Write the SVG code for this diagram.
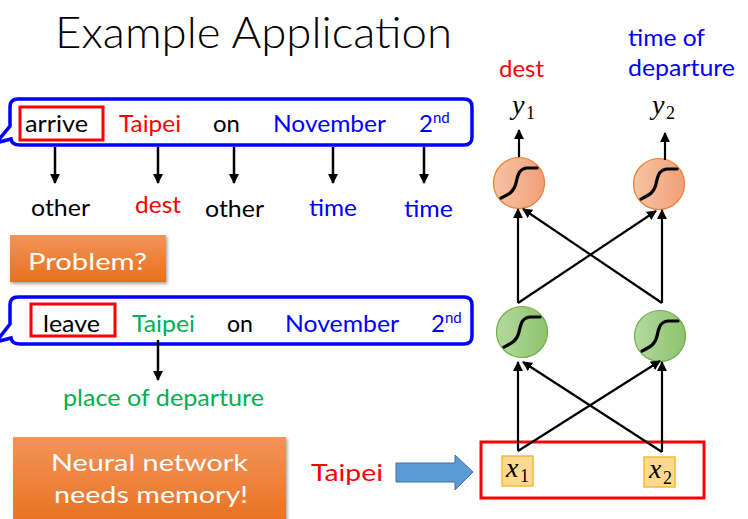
<svg xmlns="http://www.w3.org/2000/svg" width="748" height="519" viewBox="0 0 748 519">
<defs>
<style>
.s{font-family:"Lato","Open Sans","Liberation Sans",sans-serif;font-size:24px}
.t{font-family:"Liberation Serif","Times New Roman",serif;font-style:italic;font-size:28px}
.sub{font-family:"Liberation Serif","Times New Roman",serif;font-size:18px}
.blk{fill:#000}.red{fill:#ff0000}.blu{fill:#0000ff}.grn{fill:#00b050}.wht{fill:#fff}
.callout{fill:#fff;stroke:#0000ff;stroke-width:3.5}
.hl{fill:none;stroke:#ff0000;stroke-width:3}
.ar{stroke:#000;stroke-width:2.5;fill:none}
.nl{stroke:#000;stroke-width:2.2;fill:none;marker-end:url(#ah)}
.sig{fill:none;stroke:#000;stroke-width:3.2;stroke-linecap:round}
.xb{fill:#ffd98f;stroke:#f5b93a;stroke-width:1.5}
</style>
<marker id="ad" viewBox="0 0 10 10" refX="9" refY="5" markerWidth="4" markerHeight="4" orient="auto" markerUnits="strokeWidth"><path d="M0,0 L10,5 L0,10 Z" fill="#000"/></marker>
<marker id="ah" viewBox="0 0 10 10" refX="9" refY="5" markerWidth="4.5" markerHeight="4.5" orient="auto" markerUnits="strokeWidth"><path d="M0,0 L10,5 L0,10 Z" fill="#000"/></marker>
<linearGradient id="og" x1="0" y1="0" x2="0" y2="1"><stop offset="0" stop-color="#f3945a"/><stop offset="1" stop-color="#e8701d"/></linearGradient>
<linearGradient id="gg" x1="0" y1="0" x2="1" y2="0"><stop offset="0" stop-color="#b5d8a0"/><stop offset="1" stop-color="#8cc46c"/></linearGradient>
<linearGradient id="rg" x1="0" y1="0" x2="1" y2="0"><stop offset="0" stop-color="#f7c3a5"/><stop offset="1" stop-color="#f0a077"/></linearGradient>
<filter id="sh" x="-10%" y="-10%" width="130%" height="140%"><feDropShadow dx="1.5" dy="2" stdDeviation="1.5" flood-color="#000" flood-opacity="0.35"/></filter>
</defs>
<rect width="748" height="519" fill="#fff"/>

<text id="title" x="55" y="48" font-family="Lato,'Open Sans','Liberation Sans',sans-serif" font-weight="300" font-size="43" textLength="397" lengthAdjust="spacingAndGlyphs" fill="#000">Example Application</text>

<g id="callout1">
<path class="callout" d="M18 99 H464 Q472 99 472 107 V137 Q472 145 464 145 H20 Q12 145 11 139 L-4 143 L10 126 V107 Q10 99 18 99 Z"/>
<rect class="hl" x="20" y="107" width="83" height="33"/>
<text class="s blk" x="25" y="132" textLength="63" lengthAdjust="spacingAndGlyphs">arrive</text>
<text class="s red" x="119" y="132" textLength="62" lengthAdjust="spacingAndGlyphs">Taipei</text>
<text class="s blk" x="213" y="132" textLength="27" lengthAdjust="spacingAndGlyphs">on</text>
<text class="s blu" x="273" y="132" textLength="113" lengthAdjust="spacingAndGlyphs">November</text>
<text class="s blu" x="419" y="132">2<tspan font-size="15" dy="-9">nd</tspan></text>
</g>

<g id="labels1">
<text class="s blk" x="31" y="216" textLength="59" lengthAdjust="spacingAndGlyphs">other</text>
<text class="s red" x="135" y="213" textLength="46" lengthAdjust="spacingAndGlyphs">dest</text>
<text class="s blk" x="205" y="217" textLength="59" lengthAdjust="spacingAndGlyphs">other</text>
<text class="s blu" x="309" y="216" textLength="48" lengthAdjust="spacingAndGlyphs">time</text>
<text class="s blu" x="404" y="217" textLength="49" lengthAdjust="spacingAndGlyphs">time</text>
</g>

<g id="problem">
<rect x="10" y="235" width="156" height="47" fill="url(#og)" filter="url(#sh)"/>
<text class="s wht" x="28" y="270" font-size="26" textLength="119" lengthAdjust="spacingAndGlyphs">Problem?</text>
</g>

<g id="callout2">
<path class="callout" d="M18 297 H464 Q472 297 472 305 V336 Q472 344 464 344 H20 Q12 344 11 338 L-4 342 L10 324 V305 Q10 297 18 297 Z"/>
<rect class="hl" x="31" y="304" width="84" height="32"/>
<text class="s blk" x="43" y="332" textLength="57" lengthAdjust="spacingAndGlyphs">leave</text>
<text class="s grn" x="132" y="332" textLength="63" lengthAdjust="spacingAndGlyphs">Taipei</text>
<text class="s blk" x="227" y="332" textLength="26" lengthAdjust="spacingAndGlyphs">on</text>
<text class="s blu" x="285" y="332" textLength="114" lengthAdjust="spacingAndGlyphs">November</text>
<text class="s blu" x="431" y="332">2<tspan font-size="15" dy="-9">nd</tspan></text>
</g>

<g id="labels2">
<text class="s grn" x="63" y="406" textLength="201" lengthAdjust="spacingAndGlyphs">place of departure</text>
</g>

<g id="memory">
<rect x="13" y="437" width="273" height="90" fill="url(#og)" filter="url(#sh)"/>
<text class="s wht" x="51" y="471" font-size="27" textLength="197" lengthAdjust="spacingAndGlyphs">Neural network</text>
<text class="s wht" x="54" y="503" font-size="27" textLength="194" lengthAdjust="spacingAndGlyphs">needs memory!</text>
</g>

<g id="taipei-input">
<text class="s red" x="311" y="481" font-size="26" textLength="72" lengthAdjust="spacingAndGlyphs">Taipei</text>
<path d="M396 463 H455 V455 L473 472 L455 490 V482 H396 Z" fill="#5b9bd5" stroke="#41719c" stroke-width="1"/>
</g>

<g id="input-layer">
<rect x="481" y="442" width="223" height="56" fill="none" stroke="#ff0000" stroke-width="3"/>
<rect class="xb" x="502" y="456" width="31" height="30"/>
<text class="t" x="506" y="477">x</text><text class="sub" x="520" y="482">1</text>
<rect class="xb" x="644" y="457" width="31" height="30"/>
<text class="t" x="649" y="478">x</text><text class="sub" x="663" y="484">2</text>
</g>

<g id="hidden1">
<circle cx="522" cy="332" r="25.5" fill="url(#gg)" stroke="#70ad47" stroke-width="1.2"/>
<path class="sig" d="M504 347 C512 343 517 341 519 332 S522 318 530 317 L540 317"/>
</g>
<g id="hidden2">
<circle cx="660" cy="336" r="25.5" fill="url(#gg)" stroke="#70ad47" stroke-width="1.2"/>
<path class="sig" d="M642 351 C650 347 655 345 657 336 S660 322 668 321 L678 321"/>
</g>

<g id="output1">
<circle cx="519" cy="183" r="25.5" fill="url(#rg)" stroke="#ed7d31" stroke-width="1.2"/>
<path class="sig" d="M501 198 C509 194 514 192 516 183 S519 169 527 168 L537 168"/>
</g>
<g id="output2">
<circle cx="659" cy="184" r="25.5" fill="url(#rg)" stroke="#ed7d31" stroke-width="1.2"/>
<path class="sig" d="M641 199 C649 195 654 193 656 184 S659 170 667 169 L677 169"/>
</g>

<g id="out-labels">
<text class="t" x="512" y="114">y</text><text class="sub" x="526" y="119">1</text>
<text class="t" x="652" y="114">y</text><text class="sub" x="666" y="119">2</text>
<text class="s red" x="499" y="77" textLength="45" lengthAdjust="spacingAndGlyphs">dest</text>
<text class="s blu" x="628" y="46" textLength="77" lengthAdjust="spacingAndGlyphs">time of</text>
<text class="s blu" x="628" y="76" textLength="107" lengthAdjust="spacingAndGlyphs">departure</text>
</g>

<g id="connectors">
<line class="ar" x1="55" y1="147" x2="55" y2="183" marker-end="url(#ad)"/>
<line class="ar" x1="158" y1="147" x2="158" y2="183" marker-end="url(#ad)"/>
<line class="ar" x1="234" y1="147" x2="234" y2="183" marker-end="url(#ad)"/>
<line class="ar" x1="333" y1="147" x2="333" y2="183" marker-end="url(#ad)"/>
<line class="ar" x1="424" y1="147" x2="424" y2="183" marker-end="url(#ad)"/>
<line class="ar" x1="158" y1="340" x2="158" y2="380" marker-end="url(#ad)"/>

<line class="nl" x1="518" y1="451" x2="518" y2="362"/>
<line class="nl" x1="518" y1="451" x2="660" y2="361"/>
<line class="nl" x1="662" y1="452" x2="523" y2="362"/>
<line class="nl" x1="662" y1="452" x2="662" y2="362"/>

<line class="nl" x1="518" y1="303" x2="518" y2="209"/>
<line class="nl" x1="518" y1="303" x2="656" y2="211"/>
<line class="nl" x1="662" y1="303" x2="523" y2="209"/>
<line class="nl" x1="662" y1="303" x2="662" y2="210"/>

<line class="nl" x1="519" y1="157" x2="519" y2="130"/>
<line class="nl" x1="665" y1="160" x2="665" y2="133"/>
</g>
</svg>
